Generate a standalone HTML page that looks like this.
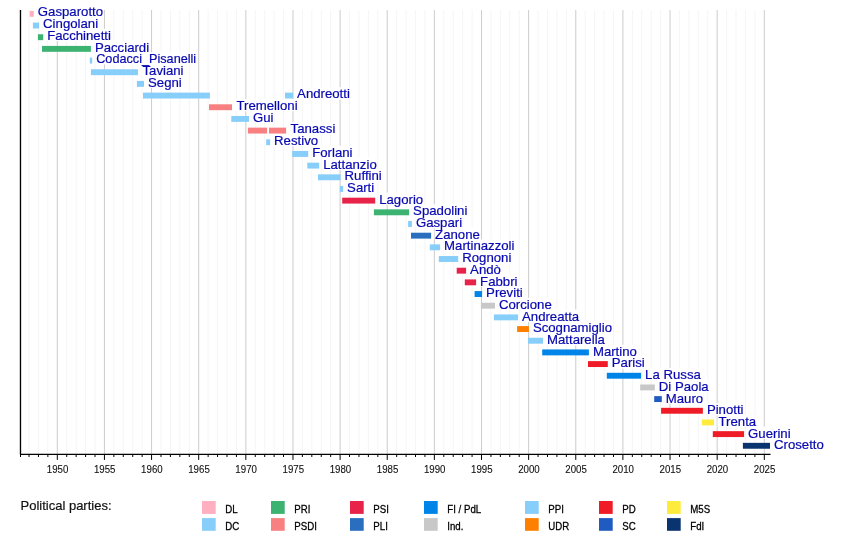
<!DOCTYPE html><html><head><meta charset="utf-8"><style>html,body{margin:0;padding:0;background:#fff;}svg{display:block;will-change:transform;}</style></head><body>
<svg width="850" height="534" viewBox="0 0 850 534" style="font-family:'Liberation Sans',sans-serif">
<line x1="19.59" y1="10" x2="19.59" y2="454.4" stroke="#f5f5f5" stroke-width="1"/>
<line x1="29.02" y1="10" x2="29.02" y2="454.4" stroke="#f5f5f5" stroke-width="1"/>
<line x1="38.45" y1="10" x2="38.45" y2="454.4" stroke="#f5f5f5" stroke-width="1"/>
<line x1="47.87" y1="10" x2="47.87" y2="454.4" stroke="#f5f5f5" stroke-width="1"/>
<line x1="57.30" y1="10" x2="57.30" y2="454.4" stroke="#cccccc" stroke-width="1"/>
<line x1="66.73" y1="10" x2="66.73" y2="454.4" stroke="#f5f5f5" stroke-width="1"/>
<line x1="76.15" y1="10" x2="76.15" y2="454.4" stroke="#f5f5f5" stroke-width="1"/>
<line x1="85.58" y1="10" x2="85.58" y2="454.4" stroke="#f5f5f5" stroke-width="1"/>
<line x1="95.01" y1="10" x2="95.01" y2="454.4" stroke="#f5f5f5" stroke-width="1"/>
<line x1="104.43" y1="10" x2="104.43" y2="454.4" stroke="#cccccc" stroke-width="1"/>
<line x1="113.86" y1="10" x2="113.86" y2="454.4" stroke="#f5f5f5" stroke-width="1"/>
<line x1="123.29" y1="10" x2="123.29" y2="454.4" stroke="#f5f5f5" stroke-width="1"/>
<line x1="132.71" y1="10" x2="132.71" y2="454.4" stroke="#f5f5f5" stroke-width="1"/>
<line x1="142.14" y1="10" x2="142.14" y2="454.4" stroke="#f5f5f5" stroke-width="1"/>
<line x1="151.57" y1="10" x2="151.57" y2="454.4" stroke="#cccccc" stroke-width="1"/>
<line x1="160.99" y1="10" x2="160.99" y2="454.4" stroke="#f5f5f5" stroke-width="1"/>
<line x1="170.42" y1="10" x2="170.42" y2="454.4" stroke="#f5f5f5" stroke-width="1"/>
<line x1="179.85" y1="10" x2="179.85" y2="454.4" stroke="#f5f5f5" stroke-width="1"/>
<line x1="189.27" y1="10" x2="189.27" y2="454.4" stroke="#f5f5f5" stroke-width="1"/>
<line x1="198.70" y1="10" x2="198.70" y2="454.4" stroke="#cccccc" stroke-width="1"/>
<line x1="208.13" y1="10" x2="208.13" y2="454.4" stroke="#f5f5f5" stroke-width="1"/>
<line x1="217.55" y1="10" x2="217.55" y2="454.4" stroke="#f5f5f5" stroke-width="1"/>
<line x1="226.98" y1="10" x2="226.98" y2="454.4" stroke="#f5f5f5" stroke-width="1"/>
<line x1="236.41" y1="10" x2="236.41" y2="454.4" stroke="#f5f5f5" stroke-width="1"/>
<line x1="245.83" y1="10" x2="245.83" y2="454.4" stroke="#cccccc" stroke-width="1"/>
<line x1="255.26" y1="10" x2="255.26" y2="454.4" stroke="#f5f5f5" stroke-width="1"/>
<line x1="264.69" y1="10" x2="264.69" y2="454.4" stroke="#f5f5f5" stroke-width="1"/>
<line x1="274.11" y1="10" x2="274.11" y2="454.4" stroke="#f5f5f5" stroke-width="1"/>
<line x1="283.54" y1="10" x2="283.54" y2="454.4" stroke="#f5f5f5" stroke-width="1"/>
<line x1="292.97" y1="10" x2="292.97" y2="454.4" stroke="#cccccc" stroke-width="1"/>
<line x1="302.39" y1="10" x2="302.39" y2="454.4" stroke="#f5f5f5" stroke-width="1"/>
<line x1="311.82" y1="10" x2="311.82" y2="454.4" stroke="#f5f5f5" stroke-width="1"/>
<line x1="321.25" y1="10" x2="321.25" y2="454.4" stroke="#f5f5f5" stroke-width="1"/>
<line x1="330.67" y1="10" x2="330.67" y2="454.4" stroke="#f5f5f5" stroke-width="1"/>
<line x1="340.10" y1="10" x2="340.10" y2="454.4" stroke="#cccccc" stroke-width="1"/>
<line x1="349.53" y1="10" x2="349.53" y2="454.4" stroke="#f5f5f5" stroke-width="1"/>
<line x1="358.95" y1="10" x2="358.95" y2="454.4" stroke="#f5f5f5" stroke-width="1"/>
<line x1="368.38" y1="10" x2="368.38" y2="454.4" stroke="#f5f5f5" stroke-width="1"/>
<line x1="377.81" y1="10" x2="377.81" y2="454.4" stroke="#f5f5f5" stroke-width="1"/>
<line x1="387.23" y1="10" x2="387.23" y2="454.4" stroke="#cccccc" stroke-width="1"/>
<line x1="396.66" y1="10" x2="396.66" y2="454.4" stroke="#f5f5f5" stroke-width="1"/>
<line x1="406.09" y1="10" x2="406.09" y2="454.4" stroke="#f5f5f5" stroke-width="1"/>
<line x1="415.51" y1="10" x2="415.51" y2="454.4" stroke="#f5f5f5" stroke-width="1"/>
<line x1="424.94" y1="10" x2="424.94" y2="454.4" stroke="#f5f5f5" stroke-width="1"/>
<line x1="434.37" y1="10" x2="434.37" y2="454.4" stroke="#cccccc" stroke-width="1"/>
<line x1="443.79" y1="10" x2="443.79" y2="454.4" stroke="#f5f5f5" stroke-width="1"/>
<line x1="453.22" y1="10" x2="453.22" y2="454.4" stroke="#f5f5f5" stroke-width="1"/>
<line x1="462.65" y1="10" x2="462.65" y2="454.4" stroke="#f5f5f5" stroke-width="1"/>
<line x1="472.07" y1="10" x2="472.07" y2="454.4" stroke="#f5f5f5" stroke-width="1"/>
<line x1="481.50" y1="10" x2="481.50" y2="454.4" stroke="#cccccc" stroke-width="1"/>
<line x1="490.93" y1="10" x2="490.93" y2="454.4" stroke="#f5f5f5" stroke-width="1"/>
<line x1="500.35" y1="10" x2="500.35" y2="454.4" stroke="#f5f5f5" stroke-width="1"/>
<line x1="509.78" y1="10" x2="509.78" y2="454.4" stroke="#f5f5f5" stroke-width="1"/>
<line x1="519.21" y1="10" x2="519.21" y2="454.4" stroke="#f5f5f5" stroke-width="1"/>
<line x1="528.63" y1="10" x2="528.63" y2="454.4" stroke="#cccccc" stroke-width="1"/>
<line x1="538.06" y1="10" x2="538.06" y2="454.4" stroke="#f5f5f5" stroke-width="1"/>
<line x1="547.49" y1="10" x2="547.49" y2="454.4" stroke="#f5f5f5" stroke-width="1"/>
<line x1="556.92" y1="10" x2="556.92" y2="454.4" stroke="#f5f5f5" stroke-width="1"/>
<line x1="566.34" y1="10" x2="566.34" y2="454.4" stroke="#f5f5f5" stroke-width="1"/>
<line x1="575.77" y1="10" x2="575.77" y2="454.4" stroke="#cccccc" stroke-width="1"/>
<line x1="585.20" y1="10" x2="585.20" y2="454.4" stroke="#f5f5f5" stroke-width="1"/>
<line x1="594.62" y1="10" x2="594.62" y2="454.4" stroke="#f5f5f5" stroke-width="1"/>
<line x1="604.05" y1="10" x2="604.05" y2="454.4" stroke="#f5f5f5" stroke-width="1"/>
<line x1="613.48" y1="10" x2="613.48" y2="454.4" stroke="#f5f5f5" stroke-width="1"/>
<line x1="622.90" y1="10" x2="622.90" y2="454.4" stroke="#cccccc" stroke-width="1"/>
<line x1="632.33" y1="10" x2="632.33" y2="454.4" stroke="#f5f5f5" stroke-width="1"/>
<line x1="641.76" y1="10" x2="641.76" y2="454.4" stroke="#f5f5f5" stroke-width="1"/>
<line x1="651.18" y1="10" x2="651.18" y2="454.4" stroke="#f5f5f5" stroke-width="1"/>
<line x1="660.61" y1="10" x2="660.61" y2="454.4" stroke="#f5f5f5" stroke-width="1"/>
<line x1="670.04" y1="10" x2="670.04" y2="454.4" stroke="#cccccc" stroke-width="1"/>
<line x1="679.46" y1="10" x2="679.46" y2="454.4" stroke="#f5f5f5" stroke-width="1"/>
<line x1="688.89" y1="10" x2="688.89" y2="454.4" stroke="#f5f5f5" stroke-width="1"/>
<line x1="698.32" y1="10" x2="698.32" y2="454.4" stroke="#f5f5f5" stroke-width="1"/>
<line x1="707.74" y1="10" x2="707.74" y2="454.4" stroke="#f5f5f5" stroke-width="1"/>
<line x1="717.17" y1="10" x2="717.17" y2="454.4" stroke="#cccccc" stroke-width="1"/>
<line x1="726.60" y1="10" x2="726.60" y2="454.4" stroke="#f5f5f5" stroke-width="1"/>
<line x1="736.02" y1="10" x2="736.02" y2="454.4" stroke="#f5f5f5" stroke-width="1"/>
<line x1="745.45" y1="10" x2="745.45" y2="454.4" stroke="#f5f5f5" stroke-width="1"/>
<line x1="754.88" y1="10" x2="754.88" y2="454.4" stroke="#f5f5f5" stroke-width="1"/>
<line x1="764.30" y1="10" x2="764.30" y2="454.4" stroke="#cccccc" stroke-width="1"/>
<rect x="37.40" y="5.40" width="65.75" height="12.3" fill="#fff"/>
<rect x="42.70" y="17.10" width="55.50" height="12.3" fill="#fff"/>
<rect x="46.80" y="28.80" width="64.28" height="12.3" fill="#fff"/>
<rect x="94.50" y="40.50" width="54.75" height="12.3" fill="#fff"/>
<rect x="95.80" y="52.20" width="100.50" height="12.3" fill="#fff"/>
<rect x="141.60" y="63.90" width="41.56" height="12.3" fill="#fff"/>
<rect x="147.60" y="75.60" width="34.23" height="12.3" fill="#fff"/>
<rect x="296.70" y="87.30" width="53.30" height="12.3" fill="#fff"/>
<rect x="235.60" y="99.00" width="61.58" height="12.3" fill="#fff"/>
<rect x="252.60" y="110.70" width="21.03" height="12.3" fill="#fff"/>
<rect x="289.70" y="122.40" width="45.22" height="12.3" fill="#fff"/>
<rect x="273.70" y="134.10" width="44.48" height="12.3" fill="#fff"/>
<rect x="311.80" y="145.80" width="40.81" height="12.3" fill="#fff"/>
<rect x="322.80" y="157.50" width="54.03" height="12.3" fill="#fff"/>
<rect x="344.20" y="169.20" width="37.66" height="12.3" fill="#fff"/>
<rect x="346.70" y="180.90" width="27.62" height="12.3" fill="#fff"/>
<rect x="378.80" y="192.60" width="44.50" height="12.3" fill="#fff"/>
<rect x="412.70" y="204.30" width="54.77" height="12.3" fill="#fff"/>
<rect x="415.50" y="216.00" width="46.69" height="12.3" fill="#fff"/>
<rect x="434.70" y="227.70" width="45.23" height="12.3" fill="#fff"/>
<rect x="443.70" y="239.40" width="70.86" height="12.3" fill="#fff"/>
<rect x="461.80" y="251.10" width="49.62" height="12.3" fill="#fff"/>
<rect x="469.70" y="262.80" width="31.31" height="12.3" fill="#fff"/>
<rect x="479.70" y="274.50" width="37.89" height="12.3" fill="#fff"/>
<rect x="485.70" y="286.20" width="37.14" height="12.3" fill="#fff"/>
<rect x="498.60" y="297.90" width="53.28" height="12.3" fill="#fff"/>
<rect x="521.60" y="309.60" width="57.69" height="12.3" fill="#fff"/>
<rect x="532.50" y="321.30" width="79.67" height="12.3" fill="#fff"/>
<rect x="546.60" y="333.00" width="58.41" height="12.3" fill="#fff"/>
<rect x="592.50" y="344.70" width="44.48" height="12.3" fill="#fff"/>
<rect x="611.40" y="356.40" width="33.48" height="12.3" fill="#fff"/>
<rect x="644.70" y="368.10" width="56.22" height="12.3" fill="#fff"/>
<rect x="658.40" y="379.80" width="50.36" height="12.3" fill="#fff"/>
<rect x="665.40" y="391.50" width="37.89" height="12.3" fill="#fff"/>
<rect x="706.50" y="403.20" width="37.16" height="12.3" fill="#fff"/>
<rect x="717.60" y="414.90" width="38.12" height="12.3" fill="#fff"/>
<rect x="747.70" y="426.60" width="43.02" height="12.3" fill="#fff"/>
<rect x="773.60" y="438.30" width="50.34" height="12.3" fill="#fff"/>
<rect x="29.70" y="10.90" width="4.10" height="5.9" fill="#FFB0C0"/>
<text x="37.80" y="16.40" font-size="13.2" fill="#0808b0" stroke="#0808b0" stroke-width="0.2">Gasparotto</text>
<rect x="32.90" y="22.57" width="6.20" height="5.9" fill="#87CEFA"/>
<text x="43.10" y="28.10" font-size="13.2" fill="#0808b0" stroke="#0808b0" stroke-width="0.2">Cingolani</text>
<rect x="37.90" y="34.25" width="5.30" height="5.9" fill="#3CB371"/>
<text x="47.20" y="39.80" font-size="13.2" fill="#0808b0" stroke="#0808b0" stroke-width="0.2">Facchinetti</text>
<rect x="42.00" y="45.92" width="48.90" height="5.9" fill="#3CB371"/>
<text x="94.90" y="51.50" font-size="13.2" fill="#0808b0" stroke="#0808b0" stroke-width="0.2">Pacciardi</text>
<rect x="89.80" y="57.60" width="2.40" height="5.9" fill="#87CEFA"/>
<text x="96.20" y="63.20" font-size="13.2" fill="#0808b0" stroke="#0808b0" stroke-width="0.2" textLength="100" lengthAdjust="spacingAndGlyphs">Codacci_Pisanelli</text>
<rect x="90.90" y="69.27" width="47.10" height="5.9" fill="#87CEFA"/>
<text x="142.50" y="74.90" font-size="13.2" fill="#0808b0" stroke="#0808b0" stroke-width="0.2">Taviani</text>
<rect x="136.90" y="80.94" width="7.10" height="5.9" fill="#87CEFA"/>
<text x="148.00" y="86.60" font-size="13.2" fill="#0808b0" stroke="#0808b0" stroke-width="0.2">Segni</text>
<rect x="143.00" y="92.62" width="66.90" height="5.9" fill="#87CEFA"/>
<rect x="285.00" y="92.62" width="8.10" height="5.9" fill="#87CEFA"/>
<text x="297.10" y="98.30" font-size="13.2" fill="#0808b0" stroke="#0808b0" stroke-width="0.2">Andreotti</text>
<rect x="209.00" y="104.29" width="23.00" height="5.9" fill="#F88080"/>
<text x="236.50" y="110.00" font-size="13.2" fill="#0808b0" stroke="#0808b0" stroke-width="0.2">Tremelloni</text>
<rect x="231.30" y="115.97" width="17.70" height="5.9" fill="#87CEFA"/>
<text x="253.00" y="121.70" font-size="13.2" fill="#0808b0" stroke="#0808b0" stroke-width="0.2">Gui</text>
<rect x="247.90" y="127.64" width="19.20" height="5.9" fill="#F88080"/>
<rect x="269.00" y="127.64" width="17.10" height="5.9" fill="#F88080"/>
<text x="290.60" y="133.40" font-size="13.2" fill="#0808b0" stroke="#0808b0" stroke-width="0.2">Tanassi</text>
<rect x="266.20" y="139.31" width="3.90" height="5.9" fill="#87CEFA"/>
<text x="274.10" y="145.10" font-size="13.2" fill="#0808b0" stroke="#0808b0" stroke-width="0.2">Restivo</text>
<rect x="292.20" y="150.99" width="16.00" height="5.9" fill="#87CEFA"/>
<text x="312.20" y="156.80" font-size="13.2" fill="#0808b0" stroke="#0808b0" stroke-width="0.2">Forlani</text>
<rect x="307.30" y="162.66" width="11.90" height="5.9" fill="#87CEFA"/>
<text x="323.20" y="168.50" font-size="13.2" fill="#0808b0" stroke="#0808b0" stroke-width="0.2">Lattanzio</text>
<rect x="318.00" y="174.34" width="22.60" height="5.9" fill="#87CEFA"/>
<text x="344.60" y="180.20" font-size="13.2" fill="#0808b0" stroke="#0808b0" stroke-width="0.2">Ruffini</text>
<rect x="339.90" y="186.01" width="3.20" height="5.9" fill="#87CEFA"/>
<text x="347.10" y="191.90" font-size="13.2" fill="#0808b0" stroke="#0808b0" stroke-width="0.2">Sarti</text>
<rect x="342.20" y="197.68" width="33.00" height="5.9" fill="#E8234A"/>
<text x="379.20" y="203.60" font-size="13.2" fill="#0808b0" stroke="#0808b0" stroke-width="0.2">Lagorio</text>
<rect x="373.90" y="209.36" width="35.20" height="5.9" fill="#3CB371"/>
<text x="413.10" y="215.30" font-size="13.2" fill="#0808b0" stroke="#0808b0" stroke-width="0.2">Spadolini</text>
<rect x="408.10" y="221.03" width="3.80" height="5.9" fill="#87CEFA"/>
<text x="415.90" y="227.00" font-size="13.2" fill="#0808b0" stroke="#0808b0" stroke-width="0.2">Gaspari</text>
<rect x="411.00" y="232.71" width="20.10" height="5.9" fill="#2A6EC0"/>
<text x="435.10" y="238.70" font-size="13.2" fill="#0808b0" stroke="#0808b0" stroke-width="0.2">Zanone</text>
<rect x="429.80" y="244.38" width="10.30" height="5.9" fill="#87CEFA"/>
<text x="444.10" y="250.40" font-size="13.2" fill="#0808b0" stroke="#0808b0" stroke-width="0.2">Martinazzoli</text>
<rect x="438.80" y="256.05" width="19.40" height="5.9" fill="#87CEFA"/>
<text x="462.20" y="262.10" font-size="13.2" fill="#0808b0" stroke="#0808b0" stroke-width="0.2">Rognoni</text>
<rect x="456.70" y="267.73" width="9.40" height="5.9" fill="#E8234A"/>
<text x="470.10" y="273.80" font-size="13.2" fill="#0808b0" stroke="#0808b0" stroke-width="0.2">Andò</text>
<rect x="464.80" y="279.40" width="11.30" height="5.9" fill="#E8234A"/>
<text x="480.10" y="285.50" font-size="13.2" fill="#0808b0" stroke="#0808b0" stroke-width="0.2">Fabbri</text>
<rect x="474.60" y="291.08" width="7.50" height="5.9" fill="#0084E8"/>
<text x="486.10" y="297.20" font-size="13.2" fill="#0808b0" stroke="#0808b0" stroke-width="0.2">Previti</text>
<rect x="480.90" y="302.75" width="14.10" height="5.9" fill="#C8C8C8"/>
<text x="499.00" y="308.90" font-size="13.2" fill="#0808b0" stroke="#0808b0" stroke-width="0.2">Corcione</text>
<rect x="493.90" y="314.42" width="24.10" height="5.9" fill="#87CEFA"/>
<text x="522.00" y="320.60" font-size="13.2" fill="#0808b0" stroke="#0808b0" stroke-width="0.2">Andreatta</text>
<rect x="517.10" y="326.10" width="11.80" height="5.9" fill="#FF8000"/>
<text x="532.90" y="332.30" font-size="13.2" fill="#0808b0" stroke="#0808b0" stroke-width="0.2">Scognamiglio</text>
<rect x="528.00" y="337.77" width="15.00" height="5.9" fill="#87CEFA"/>
<text x="547.00" y="344.00" font-size="13.2" fill="#0808b0" stroke="#0808b0" stroke-width="0.2">Mattarella</text>
<rect x="542.20" y="349.45" width="46.70" height="5.9" fill="#0084E8"/>
<text x="592.90" y="355.70" font-size="13.2" fill="#0808b0" stroke="#0808b0" stroke-width="0.2">Martino</text>
<rect x="588.00" y="361.12" width="19.80" height="5.9" fill="#EF1C27"/>
<text x="611.80" y="367.40" font-size="13.2" fill="#0808b0" stroke="#0808b0" stroke-width="0.2">Parisi</text>
<rect x="606.80" y="372.79" width="34.30" height="5.9" fill="#0084E8"/>
<text x="645.10" y="379.10" font-size="13.2" fill="#0808b0" stroke="#0808b0" stroke-width="0.2">La Russa</text>
<rect x="640.20" y="384.47" width="14.60" height="5.9" fill="#C8C8C8"/>
<text x="658.80" y="390.80" font-size="13.2" fill="#0808b0" stroke="#0808b0" stroke-width="0.2">Di Paola</text>
<rect x="654.20" y="396.14" width="7.60" height="5.9" fill="#1F5BC0"/>
<text x="665.80" y="402.50" font-size="13.2" fill="#0808b0" stroke="#0808b0" stroke-width="0.2">Mauro</text>
<rect x="661.10" y="407.82" width="41.80" height="5.9" fill="#EF1C27"/>
<text x="706.90" y="414.20" font-size="13.2" fill="#0808b0" stroke="#0808b0" stroke-width="0.2">Pinotti</text>
<rect x="701.80" y="419.49" width="12.20" height="5.9" fill="#FFEB3B"/>
<text x="718.50" y="425.90" font-size="13.2" fill="#0808b0" stroke="#0808b0" stroke-width="0.2">Trenta</text>
<rect x="712.80" y="431.16" width="31.30" height="5.9" fill="#EF1C27"/>
<text x="748.10" y="437.60" font-size="13.2" fill="#0808b0" stroke="#0808b0" stroke-width="0.2">Guerini</text>
<rect x="742.90" y="442.84" width="27.10" height="5.9" fill="#0A3470"/>
<text x="774.00" y="449.30" font-size="13.2" fill="#0808b0" stroke="#0808b0" stroke-width="0.2">Crosetto</text>
<line x1="20.5" y1="10" x2="20.5" y2="454.4" stroke="#000" stroke-width="1.3"/>
<line x1="20" y1="454.4" x2="770.5" y2="454.4" stroke="#000" stroke-width="1.3"/>
<line x1="20.50" y1="454.4" x2="20.50" y2="457.0" stroke="#000" stroke-width="1"/>
<line x1="29.02" y1="454.4" x2="29.02" y2="457.0" stroke="#000" stroke-width="1"/>
<line x1="38.45" y1="454.4" x2="38.45" y2="457.0" stroke="#000" stroke-width="1"/>
<line x1="47.87" y1="454.4" x2="47.87" y2="457.0" stroke="#000" stroke-width="1"/>
<line x1="57.30" y1="454.4" x2="57.30" y2="459.9" stroke="#000" stroke-width="1"/>
<text transform="translate(57.60,473.1) scale(0.88,1)" font-size="11" fill="#111" stroke="#111" stroke-width="0.12" text-anchor="middle">1950</text>
<line x1="66.73" y1="454.4" x2="66.73" y2="457.0" stroke="#000" stroke-width="1"/>
<line x1="76.15" y1="454.4" x2="76.15" y2="457.0" stroke="#000" stroke-width="1"/>
<line x1="85.58" y1="454.4" x2="85.58" y2="457.0" stroke="#000" stroke-width="1"/>
<line x1="95.01" y1="454.4" x2="95.01" y2="457.0" stroke="#000" stroke-width="1"/>
<line x1="104.43" y1="454.4" x2="104.43" y2="459.9" stroke="#000" stroke-width="1"/>
<text transform="translate(104.73,473.1) scale(0.88,1)" font-size="11" fill="#111" stroke="#111" stroke-width="0.12" text-anchor="middle">1955</text>
<line x1="113.86" y1="454.4" x2="113.86" y2="457.0" stroke="#000" stroke-width="1"/>
<line x1="123.29" y1="454.4" x2="123.29" y2="457.0" stroke="#000" stroke-width="1"/>
<line x1="132.71" y1="454.4" x2="132.71" y2="457.0" stroke="#000" stroke-width="1"/>
<line x1="142.14" y1="454.4" x2="142.14" y2="457.0" stroke="#000" stroke-width="1"/>
<line x1="151.57" y1="454.4" x2="151.57" y2="459.9" stroke="#000" stroke-width="1"/>
<text transform="translate(151.87,473.1) scale(0.88,1)" font-size="11" fill="#111" stroke="#111" stroke-width="0.12" text-anchor="middle">1960</text>
<line x1="160.99" y1="454.4" x2="160.99" y2="457.0" stroke="#000" stroke-width="1"/>
<line x1="170.42" y1="454.4" x2="170.42" y2="457.0" stroke="#000" stroke-width="1"/>
<line x1="179.85" y1="454.4" x2="179.85" y2="457.0" stroke="#000" stroke-width="1"/>
<line x1="189.27" y1="454.4" x2="189.27" y2="457.0" stroke="#000" stroke-width="1"/>
<line x1="198.70" y1="454.4" x2="198.70" y2="459.9" stroke="#000" stroke-width="1"/>
<text transform="translate(199.00,473.1) scale(0.88,1)" font-size="11" fill="#111" stroke="#111" stroke-width="0.12" text-anchor="middle">1965</text>
<line x1="208.13" y1="454.4" x2="208.13" y2="457.0" stroke="#000" stroke-width="1"/>
<line x1="217.55" y1="454.4" x2="217.55" y2="457.0" stroke="#000" stroke-width="1"/>
<line x1="226.98" y1="454.4" x2="226.98" y2="457.0" stroke="#000" stroke-width="1"/>
<line x1="236.41" y1="454.4" x2="236.41" y2="457.0" stroke="#000" stroke-width="1"/>
<line x1="245.83" y1="454.4" x2="245.83" y2="459.9" stroke="#000" stroke-width="1"/>
<text transform="translate(246.13,473.1) scale(0.88,1)" font-size="11" fill="#111" stroke="#111" stroke-width="0.12" text-anchor="middle">1970</text>
<line x1="255.26" y1="454.4" x2="255.26" y2="457.0" stroke="#000" stroke-width="1"/>
<line x1="264.69" y1="454.4" x2="264.69" y2="457.0" stroke="#000" stroke-width="1"/>
<line x1="274.11" y1="454.4" x2="274.11" y2="457.0" stroke="#000" stroke-width="1"/>
<line x1="283.54" y1="454.4" x2="283.54" y2="457.0" stroke="#000" stroke-width="1"/>
<line x1="292.97" y1="454.4" x2="292.97" y2="459.9" stroke="#000" stroke-width="1"/>
<text transform="translate(293.27,473.1) scale(0.88,1)" font-size="11" fill="#111" stroke="#111" stroke-width="0.12" text-anchor="middle">1975</text>
<line x1="302.39" y1="454.4" x2="302.39" y2="457.0" stroke="#000" stroke-width="1"/>
<line x1="311.82" y1="454.4" x2="311.82" y2="457.0" stroke="#000" stroke-width="1"/>
<line x1="321.25" y1="454.4" x2="321.25" y2="457.0" stroke="#000" stroke-width="1"/>
<line x1="330.67" y1="454.4" x2="330.67" y2="457.0" stroke="#000" stroke-width="1"/>
<line x1="340.10" y1="454.4" x2="340.10" y2="459.9" stroke="#000" stroke-width="1"/>
<text transform="translate(340.40,473.1) scale(0.88,1)" font-size="11" fill="#111" stroke="#111" stroke-width="0.12" text-anchor="middle">1980</text>
<line x1="349.53" y1="454.4" x2="349.53" y2="457.0" stroke="#000" stroke-width="1"/>
<line x1="358.95" y1="454.4" x2="358.95" y2="457.0" stroke="#000" stroke-width="1"/>
<line x1="368.38" y1="454.4" x2="368.38" y2="457.0" stroke="#000" stroke-width="1"/>
<line x1="377.81" y1="454.4" x2="377.81" y2="457.0" stroke="#000" stroke-width="1"/>
<line x1="387.23" y1="454.4" x2="387.23" y2="459.9" stroke="#000" stroke-width="1"/>
<text transform="translate(387.53,473.1) scale(0.88,1)" font-size="11" fill="#111" stroke="#111" stroke-width="0.12" text-anchor="middle">1985</text>
<line x1="396.66" y1="454.4" x2="396.66" y2="457.0" stroke="#000" stroke-width="1"/>
<line x1="406.09" y1="454.4" x2="406.09" y2="457.0" stroke="#000" stroke-width="1"/>
<line x1="415.51" y1="454.4" x2="415.51" y2="457.0" stroke="#000" stroke-width="1"/>
<line x1="424.94" y1="454.4" x2="424.94" y2="457.0" stroke="#000" stroke-width="1"/>
<line x1="434.37" y1="454.4" x2="434.37" y2="459.9" stroke="#000" stroke-width="1"/>
<text transform="translate(434.67,473.1) scale(0.88,1)" font-size="11" fill="#111" stroke="#111" stroke-width="0.12" text-anchor="middle">1990</text>
<line x1="443.79" y1="454.4" x2="443.79" y2="457.0" stroke="#000" stroke-width="1"/>
<line x1="453.22" y1="454.4" x2="453.22" y2="457.0" stroke="#000" stroke-width="1"/>
<line x1="462.65" y1="454.4" x2="462.65" y2="457.0" stroke="#000" stroke-width="1"/>
<line x1="472.07" y1="454.4" x2="472.07" y2="457.0" stroke="#000" stroke-width="1"/>
<line x1="481.50" y1="454.4" x2="481.50" y2="459.9" stroke="#000" stroke-width="1"/>
<text transform="translate(481.80,473.1) scale(0.88,1)" font-size="11" fill="#111" stroke="#111" stroke-width="0.12" text-anchor="middle">1995</text>
<line x1="490.93" y1="454.4" x2="490.93" y2="457.0" stroke="#000" stroke-width="1"/>
<line x1="500.35" y1="454.4" x2="500.35" y2="457.0" stroke="#000" stroke-width="1"/>
<line x1="509.78" y1="454.4" x2="509.78" y2="457.0" stroke="#000" stroke-width="1"/>
<line x1="519.21" y1="454.4" x2="519.21" y2="457.0" stroke="#000" stroke-width="1"/>
<line x1="528.63" y1="454.4" x2="528.63" y2="459.9" stroke="#000" stroke-width="1"/>
<text transform="translate(528.93,473.1) scale(0.88,1)" font-size="11" fill="#111" stroke="#111" stroke-width="0.12" text-anchor="middle">2000</text>
<line x1="538.06" y1="454.4" x2="538.06" y2="457.0" stroke="#000" stroke-width="1"/>
<line x1="547.49" y1="454.4" x2="547.49" y2="457.0" stroke="#000" stroke-width="1"/>
<line x1="556.92" y1="454.4" x2="556.92" y2="457.0" stroke="#000" stroke-width="1"/>
<line x1="566.34" y1="454.4" x2="566.34" y2="457.0" stroke="#000" stroke-width="1"/>
<line x1="575.77" y1="454.4" x2="575.77" y2="459.9" stroke="#000" stroke-width="1"/>
<text transform="translate(576.07,473.1) scale(0.88,1)" font-size="11" fill="#111" stroke="#111" stroke-width="0.12" text-anchor="middle">2005</text>
<line x1="585.20" y1="454.4" x2="585.20" y2="457.0" stroke="#000" stroke-width="1"/>
<line x1="594.62" y1="454.4" x2="594.62" y2="457.0" stroke="#000" stroke-width="1"/>
<line x1="604.05" y1="454.4" x2="604.05" y2="457.0" stroke="#000" stroke-width="1"/>
<line x1="613.48" y1="454.4" x2="613.48" y2="457.0" stroke="#000" stroke-width="1"/>
<line x1="622.90" y1="454.4" x2="622.90" y2="459.9" stroke="#000" stroke-width="1"/>
<text transform="translate(623.20,473.1) scale(0.88,1)" font-size="11" fill="#111" stroke="#111" stroke-width="0.12" text-anchor="middle">2010</text>
<line x1="632.33" y1="454.4" x2="632.33" y2="457.0" stroke="#000" stroke-width="1"/>
<line x1="641.76" y1="454.4" x2="641.76" y2="457.0" stroke="#000" stroke-width="1"/>
<line x1="651.18" y1="454.4" x2="651.18" y2="457.0" stroke="#000" stroke-width="1"/>
<line x1="660.61" y1="454.4" x2="660.61" y2="457.0" stroke="#000" stroke-width="1"/>
<line x1="670.04" y1="454.4" x2="670.04" y2="459.9" stroke="#000" stroke-width="1"/>
<text transform="translate(670.34,473.1) scale(0.88,1)" font-size="11" fill="#111" stroke="#111" stroke-width="0.12" text-anchor="middle">2015</text>
<line x1="679.46" y1="454.4" x2="679.46" y2="457.0" stroke="#000" stroke-width="1"/>
<line x1="688.89" y1="454.4" x2="688.89" y2="457.0" stroke="#000" stroke-width="1"/>
<line x1="698.32" y1="454.4" x2="698.32" y2="457.0" stroke="#000" stroke-width="1"/>
<line x1="707.74" y1="454.4" x2="707.74" y2="457.0" stroke="#000" stroke-width="1"/>
<line x1="717.17" y1="454.4" x2="717.17" y2="459.9" stroke="#000" stroke-width="1"/>
<text transform="translate(717.47,473.1) scale(0.88,1)" font-size="11" fill="#111" stroke="#111" stroke-width="0.12" text-anchor="middle">2020</text>
<line x1="726.60" y1="454.4" x2="726.60" y2="457.0" stroke="#000" stroke-width="1"/>
<line x1="736.02" y1="454.4" x2="736.02" y2="457.0" stroke="#000" stroke-width="1"/>
<line x1="745.45" y1="454.4" x2="745.45" y2="457.0" stroke="#000" stroke-width="1"/>
<line x1="754.88" y1="454.4" x2="754.88" y2="457.0" stroke="#000" stroke-width="1"/>
<line x1="764.30" y1="454.4" x2="764.30" y2="459.9" stroke="#000" stroke-width="1"/>
<text transform="translate(764.60,473.1) scale(0.88,1)" font-size="11" fill="#111" stroke="#111" stroke-width="0.12" text-anchor="middle">2025</text>
<text x="20.5" y="509.8" font-size="13" fill="#111" stroke="#111" stroke-width="0.2">Political parties:</text>
<rect x="202" y="501" width="13.7" height="12.9" fill="#FFB0C0"/>
<text transform="translate(225.3,512.8) scale(0.88,1)" font-size="11" fill="#000" stroke="#000" stroke-width="0.3">DL</text>
<rect x="202" y="518.1" width="13.7" height="12.7" fill="#87CEFA"/>
<text transform="translate(225.3,529.8) scale(0.88,1)" font-size="11" fill="#000" stroke="#000" stroke-width="0.3">DC</text>
<rect x="271" y="501" width="13.7" height="12.9" fill="#3CB371"/>
<text transform="translate(294.3,512.8) scale(0.88,1)" font-size="11" fill="#000" stroke="#000" stroke-width="0.3">PRI</text>
<rect x="271" y="518.1" width="13.7" height="12.7" fill="#F88080"/>
<text transform="translate(294.3,529.8) scale(0.88,1)" font-size="11" fill="#000" stroke="#000" stroke-width="0.3">PSDI</text>
<rect x="350" y="501" width="13.7" height="12.9" fill="#E8234A"/>
<text transform="translate(373.3,512.8) scale(0.88,1)" font-size="11" fill="#000" stroke="#000" stroke-width="0.3">PSI</text>
<rect x="350" y="518.1" width="13.7" height="12.7" fill="#2A6EC0"/>
<text transform="translate(373.3,529.8) scale(0.88,1)" font-size="11" fill="#000" stroke="#000" stroke-width="0.3">PLI</text>
<rect x="424" y="501" width="13.7" height="12.9" fill="#0084E8"/>
<text transform="translate(447.3,512.8) scale(0.88,1)" font-size="11" fill="#000" stroke="#000" stroke-width="0.3">FI / PdL</text>
<rect x="424" y="518.1" width="13.7" height="12.7" fill="#C8C8C8"/>
<text transform="translate(447.3,529.8) scale(0.88,1)" font-size="11" fill="#000" stroke="#000" stroke-width="0.3">Ind.</text>
<rect x="525" y="501" width="13.7" height="12.9" fill="#87CEFA"/>
<text transform="translate(548.3,512.8) scale(0.88,1)" font-size="11" fill="#000" stroke="#000" stroke-width="0.3">PPI</text>
<rect x="525" y="518.1" width="13.7" height="12.7" fill="#FF8000"/>
<text transform="translate(548.3,529.8) scale(0.88,1)" font-size="11" fill="#000" stroke="#000" stroke-width="0.3">UDR</text>
<rect x="599" y="501" width="13.7" height="12.9" fill="#EF1C27"/>
<text transform="translate(622.3,512.8) scale(0.88,1)" font-size="11" fill="#000" stroke="#000" stroke-width="0.3">PD</text>
<rect x="599" y="518.1" width="13.7" height="12.7" fill="#1F5BC0"/>
<text transform="translate(622.3,529.8) scale(0.88,1)" font-size="11" fill="#000" stroke="#000" stroke-width="0.3">SC</text>
<rect x="667" y="501" width="13.7" height="12.9" fill="#FFEB3B"/>
<text transform="translate(690.3,512.8) scale(0.88,1)" font-size="11" fill="#000" stroke="#000" stroke-width="0.3">M5S</text>
<rect x="667" y="518.1" width="13.7" height="12.7" fill="#0A3470"/>
<text transform="translate(690.3,529.8) scale(0.88,1)" font-size="11" fill="#000" stroke="#000" stroke-width="0.3">FdI</text>
</svg></body></html>
